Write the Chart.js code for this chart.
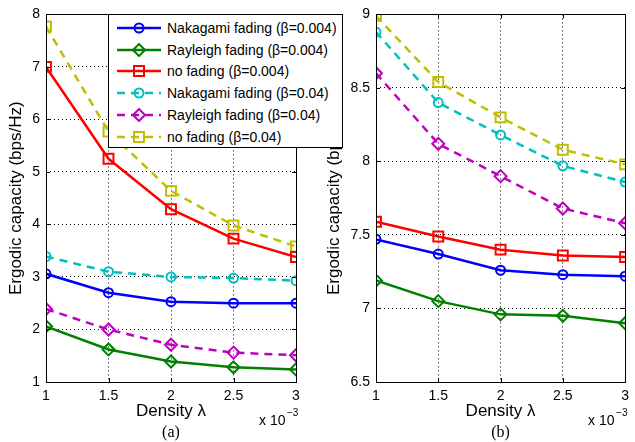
<!DOCTYPE html>
<html>
<head>
<meta charset="utf-8">
<script src="https://cdn.jsdelivr.net/npm/chart.js@4.4.1/dist/chart.umd.min.js"></script>
<style>
  html, body { margin: 0; padding: 0; background: #fff; }
  #wrap { position: relative; width: 635px; height: 442px; overflow: hidden; }
  canvas { position: absolute; top: 0; }
  #legend {
    position: absolute; left: 108px; top: 14px; width: 233px; height: 132px;
    border: 1px solid #000; background: #fff; z-index: 5;
    font: 14px "Liberation Sans", Arial, sans-serif; color: #000;
  }
  .row { position: absolute; left: 0; height: 20px; display: flex; align-items: center; }
  .row svg { margin-left: 8px; margin-right: 6px; }
</style>
</head>
<body>
<div id="wrap">
  <canvas id="chartA" width="318" height="442" style="left:0"></canvas>
  <canvas id="chartB" width="317" height="442" style="left:318px"></canvas>
  <div id="legend"></div>
</div>
<script>
// x values (density, x 10^-3)
const densities = [1, 1.5, 2, 2.5, 3];

const seriesNames = [
  "Nakagami fading (β=0.004)",
  "Rayleigh fading (β=0.004)",
  "no fading (β=0.004)",
  "Nakagami fading (β=0.04)",
  "Rayleigh fading (β=0.04)",
  "no fading (β=0.04)"
];

// panel (a)
const aNakagami004 = [3.06, 2.70, 2.53, 2.50, 2.50];
const aRayleigh004 = [2.06, 1.62, 1.39, 1.28, 1.24];
const aNoFading004 = [7.00, 5.25, 4.29, 3.73, 3.38];
const aNakagami04  = [3.39, 3.10, 3.00, 2.98, 2.93];
const aRayleigh04  = [2.39, 2.00, 1.71, 1.56, 1.51];
const aNoFading04  = [7.77, 5.77, 4.64, 3.98, 3.58];

// panel (b)
const bNakagami004 = [7.47, 7.37, 7.26, 7.23, 7.22];
const bRayleigh004 = [7.19, 7.05, 6.96, 6.95, 6.90];
const bNoFading004 = [7.59, 7.49, 7.40, 7.36, 7.35];
const bNakagami04  = [8.88, 8.40, 8.18, 7.97, 7.86];
const bRayleigh04  = [8.60, 8.12, 7.90, 7.68, 7.58];
const bNoFading04  = [8.99, 8.54, 8.30, 8.08, 7.98];

const colors = ["#0000ff", "#008000", "#ff0000", "#00bfbf", "#bf00bf", "#bfbf00"];
const markers = ["circle", "rectRot", "rect", "circle", "rectRot", "rect"];
const markerSize = { circle: 4.5, rectRot: 6, rect: 7 };
const dashed = [false, false, false, true, true, true];

const FONT = "'Liberation Sans', Arial, sans-serif";

function makeDatasets(panel) {
  return panel.map((vals, i) => ({
    label: seriesNames[i],
    data: vals.map((v, k) => ({ x: densities[k], y: v })),
    borderColor: colors[i],
    borderWidth: 2.5,
    borderDash: dashed[i] ? [8, 6] : [],
    pointStyle: markers[i],
    pointRadius: markerSize[markers[i]],
    pointBorderWidth: 2,
    pointBorderColor: colors[i],
    pointBackgroundColor: "rgba(0,0,0,0)",
    tension: 0,
    fill: false
  }));
}

// draws MATLAB style box, inner tick marks, exponent note and caption
const framePlugin = {
  id: "frame",
  afterDraw(chart, args, opts) {
    const { ctx, chartArea: a, scales } = chart;
    ctx.save();
    ctx.strokeStyle = "#000";
    ctx.lineWidth = 1;
    ctx.strokeRect(Math.round(a.left) + 0.5, Math.round(a.top) + 0.5,
      Math.round(a.right - a.left), Math.round(a.bottom - a.top));
    ctx.beginPath();
    scales.x.ticks.forEach(t => {
      const px = Math.round(scales.x.getPixelForValue(t.value)) + 0.5;
      ctx.moveTo(px, a.bottom); ctx.lineTo(px, a.bottom - 4);
      ctx.moveTo(px, a.top); ctx.lineTo(px, a.top + 4);
    });
    scales.y.ticks.forEach(t => {
      const py = Math.round(scales.y.getPixelForValue(t.value)) + 0.5;
      ctx.moveTo(a.left, py); ctx.lineTo(a.left + 4, py);
      ctx.moveTo(a.right, py); ctx.lineTo(a.right - 4, py);
    });
    ctx.stroke();

    ctx.fillStyle = "#000";
    ctx.textBaseline = "middle";
    ctx.textAlign = "left";
    ctx.font = "14px " + FONT;
    ctx.fillText("x 10", a.right - 37, 421);
    ctx.font = "10px " + FONT;
    ctx.fillText("−3", a.right - 9, 413);

    ctx.textAlign = "center";
    ctx.font = "16px 'Liberation Serif', 'Times New Roman', serif";
    ctx.fillText(opts.caption, (a.left + a.right) / 2, 433);
    ctx.restore();
  }
};

function makeChart(id, panel, yMin, yMax, yStep, yWidth, padRight, caption) {
  return new Chart(document.getElementById(id), {
    type: "line",
    data: { datasets: makeDatasets(panel) },
    plugins: [framePlugin],
    options: {
      responsive: false,
      animation: false,
      layout: { padding: { left: 0, right: padRight, top: 14, bottom: 20 } },
      plugins: {
        legend: { display: false },
        tooltip: { enabled: false },
        frame: { caption: caption }
      },
      scales: {
        x: {
          type: "linear", min: 1, max: 3,
          afterFit: s => { s.height = 40; },
          ticks: {
            stepSize: 0.5, padding: 6, color: "#000",
            font: { family: FONT, size: 14 },
            callback: v => String(v)
          },
          grid: { color: "#000", lineWidth: 1, drawTicks: false },
          border: { display: false, dash: [1, 3] },
          title: {
            display: true, text: "Density λ", color: "#000",
            font: { family: FONT, size: 17 }, padding: { top: 0, bottom: 0 }
          }
        },
        y: {
          min: yMin, max: yMax,
          afterFit: s => { s.width = yWidth; },
          ticks: {
            stepSize: yStep, padding: 6, color: "#000",
            font: { family: FONT, size: 14 },
            callback: v => String(v)
          },
          grid: { color: "#000", lineWidth: 1, drawTicks: false },
          border: { display: false, dash: [1, 3] },
          title: {
            display: true, text: "Ergodic capacity (bps/Hz)", color: "#000",
            font: { family: FONT, size: 17 }, padding: { top: 6, bottom: 2 }
          }
        }
      }
    }
  });
}

makeChart("chartA",
  [aNakagami004, aRayleigh004, aNoFading004, aNakagami04, aRayleigh04, aNoFading04],
  1, 8, 1, 46, 22, "(a)");
makeChart("chartB",
  [bNakagami004, bRayleigh004, bNoFading004, bNakagami04, bRayleigh04, bNoFading04],
  6.5, 9, 0.5, 58, 6, "(b)");

// legend
function markerSvg(i) {
  const c = colors[i];
  const m = markers[i];
  if (m === "circle") return `<circle cx="22" cy="7" r="4.5" fill="none" stroke="${c}" stroke-width="2"/>`;
  if (m === "rect") return `<rect x="17" y="2" width="10" height="10" fill="none" stroke="${c}" stroke-width="2"/>`;
  return `<polygon points="22,1 28,7 22,13 16,7" fill="none" stroke="${c}" stroke-width="2"/>`;
}
const legend = document.getElementById("legend");
seriesNames.forEach((name, i) => {
  const row = document.createElement("div");
  row.className = "row";
  row.style.top = (3 + i * 21.7) + "px";
  const dash = dashed[i] ? 'stroke-dasharray="8 6"' : "";
  row.innerHTML =
    `<svg width="44" height="14"><line x1="0" y1="7" x2="44" y2="7" stroke="${colors[i]}" stroke-width="2.5" ${dash}/>` +
    markerSvg(i) + `</svg><span>${name}</span>`;
  legend.appendChild(row);
});
</script>
</body>
</html>
